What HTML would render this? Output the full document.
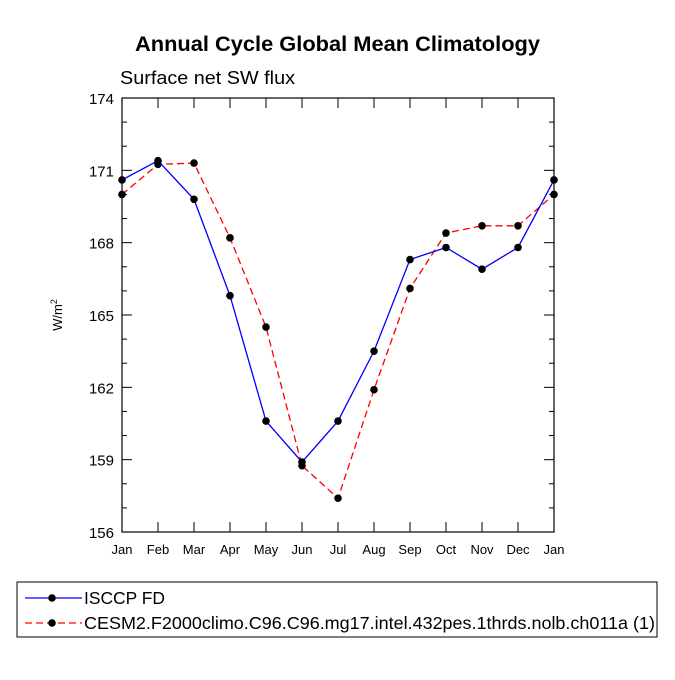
<!DOCTYPE html>
<html><head><meta charset="utf-8"><style>
body{margin:0;background:#fff;}
svg text{font-family:"Liberation Sans",Arial,sans-serif;fill:#000;}
</style></head><body>
<svg width="675" height="675" viewBox="0 0 675 675" xmlns="http://www.w3.org/2000/svg">
<text x="135" y="51" font-size="21.5" font-weight="bold" textLength="405" lengthAdjust="spacingAndGlyphs">Annual Cycle Global Mean Climatology</text>
<text x="120" y="84" font-size="18" textLength="175" lengthAdjust="spacingAndGlyphs">Surface net SW flux</text>
<text transform="translate(62,315) rotate(-90)" text-anchor="middle" font-size="13">W/m<tspan dy="-5" font-size="9">2</tspan></text>
<g id="axes"></g>
<g id="series"></g>
<rect x="17" y="582" width="640" height="55" fill="none" stroke="#000" stroke-width="1"/>
<g>
<line x1="25" y1="598" x2="82" y2="598" stroke="#0000ff" stroke-width="1.3"/>
<circle cx="52" cy="598" r="3.8" fill="#000"/>
<text x="84" y="604" font-size="17.2" textLength="81" lengthAdjust="spacingAndGlyphs">ISCCP FD</text></g>
<g>
<line x1="25" y1="623" x2="82" y2="623" stroke="#ff0000" stroke-width="1.3" stroke-dasharray="7,4"/>
<circle cx="52" cy="623" r="3.8" fill="#000"/>
<text x="84" y="629" font-size="17.2" textLength="571" lengthAdjust="spacingAndGlyphs">CESM2.F2000climo.C96.C96.mg17.intel.432pes.1thrds.nolb.ch011a (1)</text></g>
</svg>
<script>
const months=["Jan","Feb","Mar","Apr","May","Jun","Jul","Aug","Sep","Oct","Nov","Dec","Jan"];
const isccp=[170.6,171.4,169.8,165.8,160.6,158.9,160.6,163.5,167.3,167.8,166.9,167.8,170.6];
const cesm=[170.0,171.25,171.3,168.2,164.5,158.75,157.4,161.9,166.1,168.4,168.7,168.7,170.0];
const yTicks=[156,159,162,165,168,171,174];
const NS="http://www.w3.org/2000/svg";
const L=122,R=554,T=98,B=532,yMin=156,yMax=174;
const xs=i=>L+(R-L)*i/(months.length-1);
const ys=v=>B-(B-T)*(v-yMin)/(yMax-yMin);
function mk(tag,attrs,parent){const e=document.createElementNS(NS,tag);for(const k in attrs)e.setAttribute(k,attrs[k]);parent.appendChild(e);return e;}
const ax=document.getElementById('axes');
const frame=mk('rect',{x:L,y:T,width:R-L,height:B-T,fill:'none',stroke:'#000','stroke-width':1.2},ax);


months.forEach((m,i)=>{const x=xs(i);
 mk('line',{x1:x,y1:B,x2:x,y2:B-10,stroke:'#000'},ax);
 mk('line',{x1:x,y1:T,x2:x,y2:T+10,stroke:'#000'},ax);
 const t=mk('text',{x:x,y:B+22,'text-anchor':'middle','font-size':13},ax);t.textContent=m;
 
 
});
for(let v=yMin;v<=yMax;v++){const y=ys(v);const maj=(v-yMin)%3===0;const len=maj?10:5;
 mk('line',{x1:L,y1:y,x2:L+len,y2:y,stroke:'#000'},ax);
 mk('line',{x1:R,y1:y,x2:R-len,y2:y,stroke:'#000'},ax);}
yTicks.forEach(v=>{const t=mk('text',{x:L-8,y:ys(v)+6,'text-anchor':'end','font-size':15},ax);t.textContent=v;
 
 });
const sg=document.getElementById('series');
function draw(vals,color,dash,name){
 const g=mk('g',{},sg);
 
 
 const pts=vals.map((v,i)=>xs(i)+','+ys(v)).join(' ');
 const a={points:pts,fill:'none',stroke:color,'stroke-width':1.3};if(dash)a['stroke-dasharray']=dash;
 mk('polyline',a,g);
 vals.forEach((v,i)=>{const c=mk('circle',{cx:xs(i),cy:ys(v),r:3.8,fill:'#000'},g);
  
  });
}
draw(cesm,'#ff0000','7,4','cesm2-series');
draw(isccp,'#0000ff',null,'isccp-series');
</script>
</body></html>
